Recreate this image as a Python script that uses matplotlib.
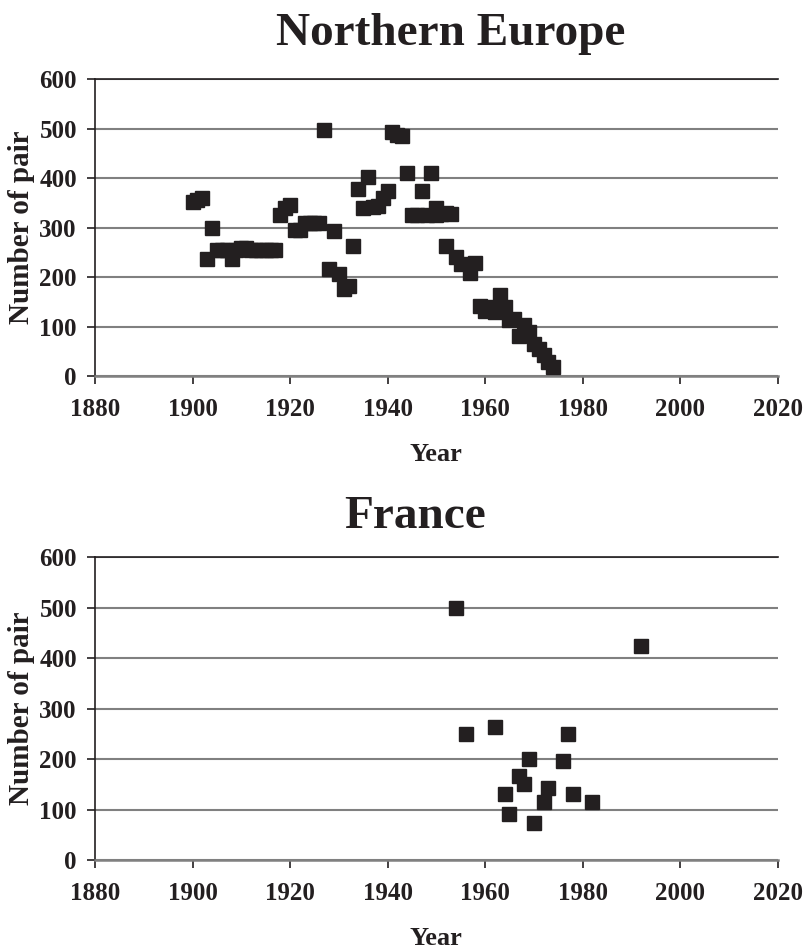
import matplotlib
matplotlib.use("Agg")
import matplotlib.pyplot as plt

# Northern Europe
ne_years = [1900, 1901, 1902, 1903, 1904, 1905, 1906, 1907, 1908, 1909,
            1910, 1911, 1912, 1913, 1914, 1915, 1916, 1917, 1918, 1919,
            1920, 1921, 1922, 1923, 1924, 1925, 1926, 1927, 1928, 1929,
            1930, 1931, 1932, 1933, 1934, 1935, 1936, 1937, 1938, 1939,
            1940, 1941, 1942, 1943, 1944, 1945, 1946, 1947, 1948, 1949,
            1950, 1950, 1951, 1952, 1952, 1953, 1954, 1955, 1957, 1958,
            1959, 1960, 1961, 1962, 1963, 1964, 1965, 1966, 1967, 1968,
            1969, 1970, 1971, 1972, 1973, 1974]
ne_pairs = [352, 355, 360, 237, 300, 255, 255, 255, 237, 255,
            258, 258, 255, 255, 255, 255, 255, 255, 325, 340,
            345, 295, 295, 310, 310, 310, 310, 498, 217, 292,
            206, 175, 182, 262, 378, 340, 402, 342, 343, 360,
            373, 493, 487, 484, 410, 325, 325, 373, 325, 410,
            340, 325, 328, 330, 263, 328, 241, 227, 208, 229,
            142, 132, 140, 130, 164, 140, 113, 115, 80, 103,
            88, 65, 55, 43, 28, 19]

# France
fr_years = [1954, 1956, 1962, 1964, 1965, 1967, 1968, 1969, 1970, 1972,
            1973, 1976, 1977, 1978, 1982, 1992]
fr_pairs = [500, 250, 263, 130, 91, 167, 150, 200, 74, 115,
            142, 197, 250, 130, 115, 425]

x_ticks = [1880, 1900, 1920, 1940, 1960, 1980, 2000, 2020]
y_ticks = [0, 100, 200, 300, 400, 500, 600]

serif = "Liberation Serif"
ink = "#231f20"


def draw_panel(ax, years, pairs):
    ax.plot(years, pairs, ls="none", marker="s", ms=10, color=ink,
            zorder=3, clip_on=False)
    ax.set_xlim(1880, 2020)
    ax.set_ylim(0, 600)
    ax.set_xticks(x_ticks)
    ax.set_yticks(y_ticks)
    ax.yaxis.grid(True, color="#808080", lw=1.5)
    ax.set_axisbelow(True)
    ax.spines["right"].set_visible(False)
    ax.spines["top"].set_color(ink)
    ax.spines["top"].set_linewidth(1.2)
    ax.spines["left"].set_color(ink)
    ax.spines["left"].set_linewidth(1.2)
    ax.spines["bottom"].set_color("#808080")
    ax.spines["bottom"].set_linewidth(1.8)
    ax.tick_params(axis="x", length=6, width=1.2, color=ink, pad=10)
    ax.tick_params(axis="y", length=6, width=1.2, color=ink, pad=7)
    for lab in ax.get_xticklabels() + ax.get_yticklabels():
        lab.set_fontfamily(serif)
        lab.set_fontweight("bold")
        lab.set_fontsize(18)
        lab.set_color(ink)
    ax.set_xlabel("Year", fontfamily=serif, fontweight="bold", fontsize=19,
                  labelpad=16, color=ink)
    ax.set_ylabel("Number of pair", fontfamily=serif, fontweight="bold",
                  fontsize=21, labelpad=3, color=ink)


fig = plt.figure(figsize=(8.05, 9.52), dpi=100)
ax1 = fig.add_axes([0.118, 0.605, 0.848, 0.312])
ax2 = fig.add_axes([0.118, 0.0966, 0.848, 0.318])

draw_panel(ax1, ne_years, ne_pairs)
draw_panel(ax2, fr_years, fr_pairs)

fig.text(0.5596, 0.9527, "Northern Europe", ha="center", va="baseline",
         fontfamily=serif, fontweight="bold", fontsize=34, color=ink)
fig.text(0.5155, 0.4454, "France", ha="center", va="baseline",
         fontfamily=serif, fontweight="bold", fontsize=34, color=ink)

fig.savefig("out.png", dpi=100)
